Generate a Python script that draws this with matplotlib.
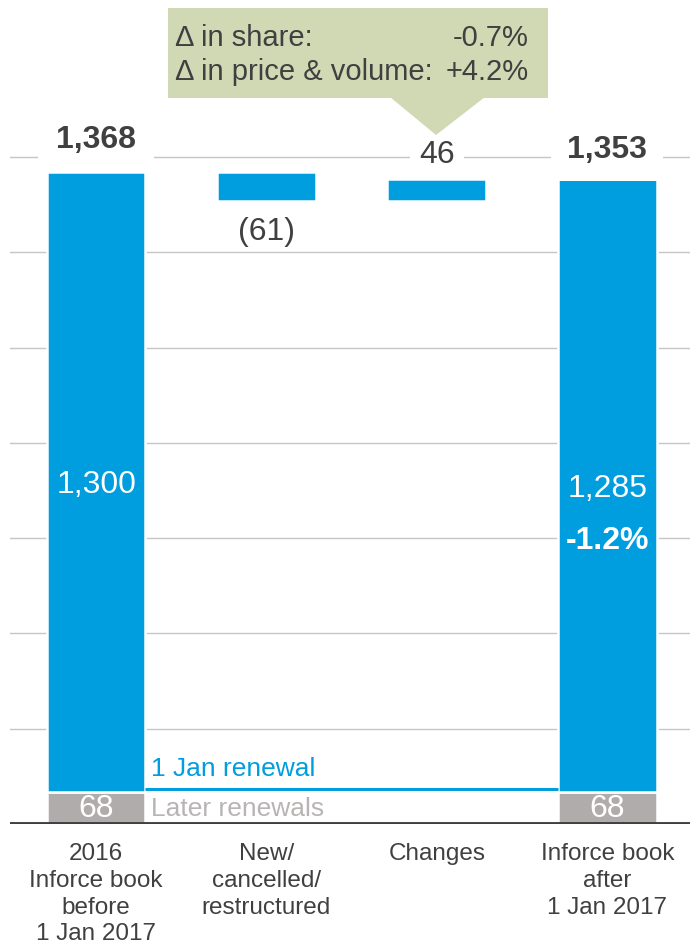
import matplotlib
matplotlib.use("Agg")
import matplotlib.pyplot as plt
from matplotlib.patches import Polygon, Rectangle

plt.rcParams['font.family'] = ['Liberation Sans', 'DejaVu Sans']

# ---- data ----
categories = ["2016\nInforce book\nbefore\n1 Jan 2017", "New/\ncancelled/\nrestructured",
              "Changes", "Inforce book\nafter\n1 Jan 2017"]
later_renewals = 68
start_jan = 1300
delta_new = -61
delta_changes = 46
end_jan = 1285
end_pct = "-1.2%"
box_lines = [("\u0394 in share:", "-0.7%"), ("\u0394 in price & volume:", "+4.2%")]
grid_ticks = [200, 400, 600, 800, 1000, 1200, 1400]

BLUE = "#009DDF"
GREY = "#B1ACAC"
TXT = "#404040"
GRID = "#C9C5C5"
GREEN = "#D0D9B4"

W, H = 691, 944
fig = plt.figure(figsize=(W / 100, H / 100), dpi=100)
ax = fig.add_axes([10 / W, (H - 824) / H, 680 / W, 705 / H])
ax.set_xlim(-0.505, 3.485)
ax.set_ylim(0, 1480)
ax.axis('off')

# gridlines
for g in grid_ticks:
    ax.axhline(g, color=GRID, lw=1.0, zorder=0)
# baseline
ax.axhline(-1, color=TXT, lw=2.8, zorder=5)

bw = 0.58
x = range(len(categories))
total_start = later_renewals + start_jan
after_new = total_start + delta_new
total_end = after_new + delta_changes

# grey later renewals
for xi in (0, 3):
    ax.bar(xi, later_renewals, width=bw, color=GREY, edgecolor='white', lw=1.8, zorder=2)
# blue stacks
ax.bar(0, start_jan, bottom=later_renewals, width=bw, color=BLUE, edgecolor='white', lw=1.8, zorder=2)
ax.bar(3, end_jan, bottom=later_renewals, width=bw, color=BLUE, edgecolor='white', lw=1.8, zorder=2)
# floating bars
ax.bar(1, -delta_new, bottom=after_new, width=bw, color=BLUE, edgecolor='white', lw=1.8, zorder=2)
ax.bar(2, delta_changes, bottom=after_new, width=bw, color=BLUE, edgecolor='white', lw=1.8, zorder=2)

# 1 Jan renewal line
ax.plot([0 + bw / 2, 3 - bw / 2], [later_renewals + 5, later_renewals + 5], color=BLUE, lw=2.2,
        zorder=3, solid_capstyle='butt')
ax.text(0 + bw / 2 + 0.035, later_renewals + 47, "1 Jan renewal", color=BLUE, fontsize=19,
        ha='left', va='center', zorder=6)
ax.text(0 + bw / 2 + 0.035, later_renewals / 2 - 3, "Later renewals", color="#B8B4B4", fontsize=19,
        ha='left', va='center', zorder=6)

# value labels
ax.text(0, total_start + 67, f"{total_start:,}", fontsize=23, fontweight='bold', color=TXT,
        ha='center', va='center', bbox=dict(boxstyle='square,pad=0.55', fc='white', ec='none'), zorder=6)
ax.text(3, total_end + 61, f"{total_end:,}", fontsize=23, fontweight='bold', color=TXT,
        ha='center', va='center', bbox=dict(boxstyle='square,pad=0.5', fc='white', ec='none'), zorder=6)
ax.text(2, total_end + 51, f"{delta_changes}", fontsize=23, color=TXT,
        ha='center', va='center', bbox=dict(boxstyle='square,pad=0.3', fc='white', ec='none'), zorder=6)
ax.text(1, after_new - 65, f"({-delta_new})", fontsize=23, color=TXT, ha='center', va='center', zorder=6)
ax.text(0, 711, f"{start_jan:,}", fontsize=23, color='white', ha='center', va='center', zorder=6)
ax.text(3, 703, f"{end_jan:,}", fontsize=23, color='white', ha='center', va='center', zorder=6)
ax.text(3, 594, end_pct, fontsize=23, fontweight='bold', color='white', ha='center', va='center', zorder=6)
for xi in (0, 3):
    ax.text(xi, later_renewals / 2 - 2, f"{later_renewals}", fontsize=23, color='white',
            ha='center', va='center', zorder=6)

# category labels
for xi, c in zip(x, categories):
    ax.text(xi, -40, c, fontsize=17.5, color=TXT, ha='center', va='top', linespacing=1.28,
            zorder=6, clip_on=False)

# callout box (figure pixel coordinates -> fraction)
def fx(px):
    return px / W

def fy(py):
    return 1 - py / H

fig.patches.append(Rectangle((fx(168), fy(98)), fx(548) - fx(168), fy(8) - fy(98),
                             transform=fig.transFigure, fc=GREEN, ec='none'))
fig.patches.append(Polygon([(fx(390), fy(97)), (fx(485), fy(97)), (fx(436), fy(135))], closed=True,
                           transform=fig.transFigure, fc=GREEN, ec='none'))
for i, (l, r) in enumerate(box_lines):
    yy = fy(38 + 34 * i)
    fig.text(fx(175), yy, l, fontsize=21, color=TXT, ha='left', va='center')
    fig.text(fx(529), yy, r, fontsize=21, color=TXT, ha='right', va='center')

fig.savefig("out.png", dpi=100, facecolor='white')
